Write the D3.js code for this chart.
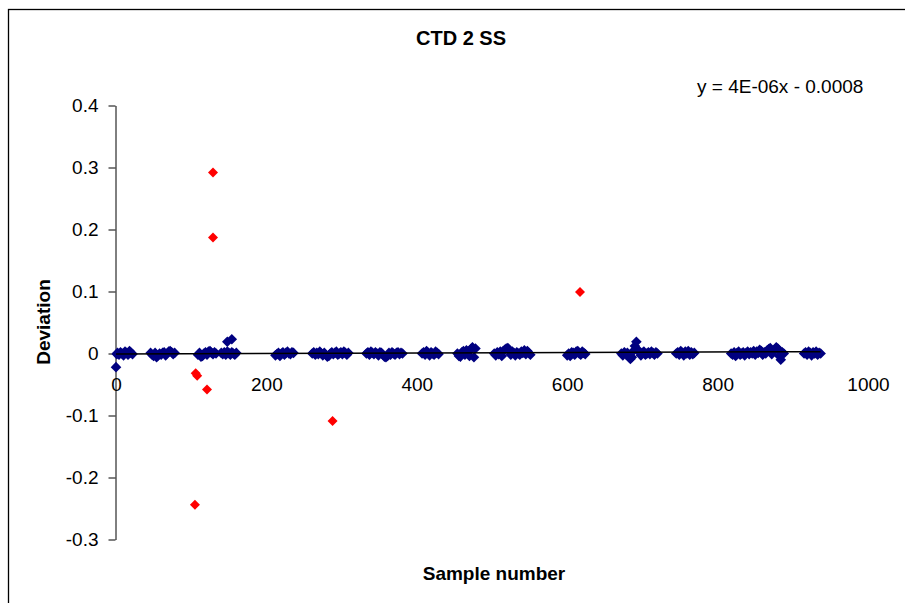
<!DOCTYPE html>
<html>
<head>
<meta charset="utf-8">
<script src="https://cdn.jsdelivr.net/npm/d3@7"></script>
<style>
    body { margin: 0; background: #fff; }
    svg { display: block; font-family: "Liberation Sans", Arial, sans-serif; }
    .axis text { font-size: 19px; fill: #000; }
    .axis path, .axis line { stroke: #000; }
</style>
</head>
<body>
<div id="chart"></div>
<script>
'use strict';

var titleText = 'CTD 2 SS';
var xTitle = 'Sample number';
var yTitle = 'Deviation';
var equationText = 'y = 4E-06x - 0.0008';

// trendline coefficients as printed on the chart
var trendSlope = 4e-6;
var trendIntercept = -0.0008;

var xTickValues = [0, 200, 400, 600, 800, 1000];
var xTickLabels = ['0', '200', '400', '600', '800', '1000'];
var yTickValues = [0.4, 0.3, 0.2, 0.1, 0, -0.1, -0.2, -0.3];
var yTickLabels = ['0.4', '0.3', '0.2', '0.1', '0', '-0.1', '-0.2', '-0.3'];

// [sample number, deviation] - regular points (blue)
var blueSeries = [
    [0, -0.022], [1, -0.001], [2, 0.001], [4, -0.002], [6, 0.002], [8, 0.000], [10, -0.003], [12, 0.003],
    [14, 0.001], [16, -0.002], [18, 0.004], [20, 0.001], [22, -0.001],
    [46, 0.001], [48, -0.002], [50, -0.004], [52, 0.001], [54, -0.006], [56, -0.003], [58, 0.000], [60, -0.002],
    [62, 0.001], [64, 0.002], [66, -0.003], [68, 0.000], [70, 0.003], [72, 0.004], [74, 0.002], [76, -0.001], [78, 0.001],
    [109, -0.002], [111, 0.001], [113, -0.005], [115, -0.004], [117, 0.000], [119, 0.002], [121, -0.002], [123, 0.003],
    [125, 0.004], [127, 0.001], [129, -0.001], [131, 0.002], [133, 0.000],
    [140, 0.001], [142, -0.001], [144, 0.002], [146, -0.002], [148, 0.003], [148, 0.019], [150, 0.001], [152, -0.002],
    [154, 0.002], [154, 0.023], [156, 0.000], [158, -0.002], [160, 0.001],
    [212, -0.003], [214, -0.001], [216, 0.001], [218, -0.004], [220, 0.000], [222, 0.002], [224, -0.002], [226, 0.001],
    [228, 0.003], [230, 0.000], [232, -0.001], [234, 0.002], [236, 0.001],
    [261, 0.000], [263, 0.002], [265, -0.002], [267, 0.001], [269, -0.001], [271, 0.003], [273, 0.000], [275, -0.003],
    [277, 0.001], [279, -0.002], [281, -0.005], [283, -0.004], [285, 0.000], [287, 0.002], [289, -0.001], [291, 0.001],
    [293, 0.003], [295, -0.002], [297, 0.000], [299, 0.002], [301, -0.001], [303, 0.003], [305, 0.001], [307, -0.002], [309, 0.001],
    [333, 0.000], [335, 0.002], [337, -0.002], [339, 0.003], [341, 0.001], [343, -0.001], [345, 0.002], [347, 0.000],
    [349, -0.003], [351, 0.002], [353, 0.001], [355, -0.002], [357, -0.005], [359, -0.006], [361, -0.004], [363, 0.001],
    [365, -0.002], [367, 0.002], [369, 0.000], [371, -0.002], [373, 0.001], [375, 0.002], [377, -0.001], [379, 0.001], [381, 0.000],
    [407, 0.000], [409, 0.002], [411, -0.002], [413, 0.004], [415, 0.001], [417, -0.003], [419, 0.002], [421, 0.000],
    [423, -0.002], [425, 0.003], [427, 0.001], [429, -0.001],
    [454, 0.000], [456, -0.004], [458, -0.005], [460, 0.002], [462, 0.004], [464, -0.002], [466, 0.005], [468, 0.003],
    [470, -0.004], [472, 0.007], [474, 0.010], [476, -0.006], [478, 0.008],
    [503, 0.000], [505, -0.003], [507, 0.002], [509, -0.001], [511, 0.003], [513, -0.004], [515, 0.004], [517, 0.006],
    [519, 0.008], [521, 0.009], [523, 0.005], [525, -0.002], [527, 0.003], [529, 0.001], [531, -0.003], [533, 0.002],
    [535, 0.000], [537, -0.002], [539, 0.003], [541, 0.001], [543, 0.005], [545, -0.001], [547, 0.004], [549, 0.001], [551, -0.002],
    [600, -0.003], [602, 0.000], [604, -0.004], [606, 0.002], [608, 0.001], [610, -0.002], [612, 0.003], [614, 0.004],
    [616, 0.000], [618, -0.002], [620, 0.003], [622, 0.001], [624, -0.001],
    [672, 0.000], [674, -0.003], [676, 0.002], [678, -0.001], [680, 0.001], [682, -0.004], [684, -0.009], [686, -0.006],
    [688, 0.004], [690, 0.012], [692, 0.019], [694, 0.006], [696, 0.002], [698, -0.003], [700, 0.001], [702, 0.003],
    [704, -0.002], [706, 0.000], [708, 0.002], [710, -0.001], [712, 0.003], [714, 0.001], [716, -0.002], [718, 0.002], [720, 0.000],
    [745, 0.000], [747, 0.002], [749, -0.002], [751, 0.004], [753, 0.001], [755, -0.003], [757, 0.003], [759, 0.000],
    [761, 0.004], [763, -0.002], [765, 0.002], [767, -0.001], [769, 0.001],
    [818, 0.000], [820, -0.002], [822, 0.002], [824, -0.004], [826, 0.001], [828, 0.003], [830, -0.002], [832, 0.000],
    [834, 0.002], [836, -0.003], [838, 0.001], [840, 0.003], [842, -0.001], [844, 0.002], [846, 0.000], [848, 0.004],
    [850, -0.002], [852, 0.003], [854, 0.001], [856, 0.006], [858, 0.004], [860, -0.002], [862, 0.002], [864, 0.000],
    [866, 0.005], [868, 0.007], [870, 0.009], [872, -0.001], [874, 0.003], [876, 0.006], [878, 0.010], [880, 0.008],
    [882, -0.004], [884, -0.010], [886, 0.002], [888, 0.000],
    [915, 0.000], [917, 0.002], [919, -0.002], [921, 0.003], [923, 0.001], [925, -0.003], [927, 0.002], [929, 0.000],
    [931, 0.003], [933, -0.002], [935, 0.001], [937, 0.000]
];

// [sample number, deviation] - outliers (red)
var redSeries = [
    [106, -0.032], [108, -0.036], [121, -0.058], [105, -0.244],
    [129, 0.292], [129, 0.187], [288, -0.109], [617, 0.099]
];

var width = 905;
var height = 603;

var svg = d3.select('#chart').append('svg')
    .attr('width', width)
    .attr('height', height);

// chart area frame (runs off the right and bottom edges)
svg.append('rect')
    .attr('x', 8.5)
    .attr('y', 9.5)
    .attr('width', 1000)
    .attr('height', 1000)
    .attr('fill', '#fff')
    .attr('stroke', '#000')
    .attr('stroke-width', 1.3);

var xScale = d3.scaleLinear()
    .domain([0, 1000])
    .range([116, 868]);
var yScale = d3.scaleLinear()
    .domain([-0.3, 0.4])
    .range([539.5, 105.5]);

// x labels only, sitting under the zero line
var xAxis = d3.axisBottom(xScale)
    .tickValues(xTickValues)
    .tickFormat(function(d, i) { return xTickLabels[i]; })
    .tickSize(0)
    .tickPadding(24);
svg.append('g')
    .attr('class', 'axis')
    .attr('transform', 'translate(0,' + yScale(0) + ')')
    .call(xAxis)
    .call(function(g) { g.select('.domain').remove(); });

var yAxis = d3.axisLeft(yScale)
    .tickValues(yTickValues)
    .tickFormat(function(d, i) { return yTickLabels[i]; })
    .tickSize(7)
    .tickSizeOuter(0)
    .tickPadding(10);
svg.append('g')
    .attr('class', 'axis')
    .attr('transform', 'translate(115.5,0)')
    .call(yAxis);

var blueDiamond = d3.symbol().type(d3.symbolSquare).size(56);
var redDiamond = d3.symbol().type(d3.symbolSquare).size(50);

svg.append('g').selectAll('path')
    .data(blueSeries)
    .enter()
    .append('path')
    .attr('d', blueDiamond)
    .attr('fill', '#000080')
    .attr('transform', function(d) {
        return 'translate(' + xScale(d[0]) + ',' + yScale(d[1]) + ') rotate(45)';
    });

svg.append('g').selectAll('path')
    .data(redSeries)
    .enter()
    .append('path')
    .attr('d', redDiamond)
    .attr('fill', '#ff0000')
    .attr('transform', function(d) {
        return 'translate(' + xScale(d[0]) + ',' + yScale(d[1]) + ') rotate(45)';
    });

// linear trendline over the sampled range
var xExtent = d3.extent(blueSeries.concat(redSeries), function(d) { return d[0]; });
svg.append('line')
    .attr('x1', xScale(xExtent[0]))
    .attr('y1', yScale(trendSlope * xExtent[0] + trendIntercept))
    .attr('x2', xScale(xExtent[1]))
    .attr('y2', yScale(trendSlope * xExtent[1] + trendIntercept))
    .attr('stroke', '#000')
    .attr('stroke-width', 1.5);

svg.append('text')
    .attr('x', 461)
    .attr('y', 45)
    .attr('text-anchor', 'middle')
    .style('font-size', '20px')
    .style('font-weight', 'bold')
    .text(titleText);

svg.append('text')
    .attr('x', 494)
    .attr('y', 580)
    .attr('text-anchor', 'middle')
    .style('font-size', '19px')
    .style('font-weight', 'bold')
    .text(xTitle);

svg.append('text')
    .attr('transform', 'translate(50,322) rotate(-90)')
    .attr('text-anchor', 'middle')
    .style('font-size', '19px')
    .style('font-weight', 'bold')
    .text(yTitle);

svg.append('text')
    .attr('x', 697)
    .attr('y', 93)
    .style('font-size', '19px')
    .text(equationText);
</script>
</body>
</html>
